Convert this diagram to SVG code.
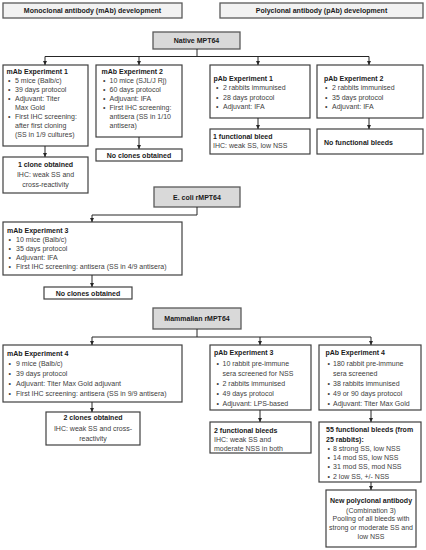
<svg xmlns="http://www.w3.org/2000/svg" width="426" height="550" viewBox="0 0 426 550">
<defs>
<marker id="arr" viewBox="0 0 6 6" refX="6" refY="3" markerWidth="4.5" markerHeight="4.5" markerUnits="userSpaceOnUse" orient="auto">
<path d="M0,0 L6,3 L0,6 z" fill="#262626"/>
</marker>
<style>
.box{fill:#fff;stroke:#404040;stroke-width:1.2}
.hdr{fill:#f2f2f2;stroke:#595959;stroke-width:1.3}
.src{fill:#d9d9d9;stroke:#595959;stroke-width:1.3}
text{font-family:"Liberation Sans",Arial,sans-serif;font-size:7px;fill:#404040}
.b{font-weight:bold;fill:#1a1a1a}
.c{text-anchor:middle}
.con{fill:none;stroke:#262626;stroke-width:1}
</style>
</defs>
<rect width="426" height="550" fill="#fff"/>

<g id="hdr-mab"><rect class="hdr" x="3" y="3" width="179" height="15"/><text class="b c" x="92.5" y="13.3">Monoclonal antibody (mAb) development</text></g>
<g id="hdr-pab"><rect class="hdr" x="220" y="3" width="203" height="15"/><text class="b c" x="321.5" y="13.3">Polyclonal antibody (pAb) development</text></g>

<g id="native"><rect class="src" x="153" y="32" width="87" height="17"/><text class="b c" x="196.5" y="43">Native MPT64</text></g>

<g id="mab1"><rect class="box" x="3" y="65" width="85" height="81"/>
<text class="b" x="6.5" y="74">mAb Experiment 1</text>
<text x="8" y="83">•</text><text x="15" y="83">5 mice (Balb/c)</text>
<text x="8" y="92">•</text><text x="15" y="92">39 days protocol</text>
<text x="8" y="101">•</text><text x="15" y="101">Adjuvant: Titer</text>
<text x="15" y="110">Max Gold</text>
<text x="8" y="119">•</text><text x="15" y="119">First IHC screening:</text>
<text x="15" y="128">after first cloning</text>
<text x="15" y="137">(SS in 1/9 cultures)</text>
</g>
<g id="mab1-res"><rect class="box" x="3" y="157" width="85" height="36"/>
<text class="b c" x="45.5" y="166.5">1 clone obtained</text>
<text class="c" x="45.5" y="176.5">IHC: weak SS and</text>
<text class="c" x="45.5" y="186.5">cross-reactivity</text>
</g>

<g id="mab2"><rect class="box" x="96" y="65" width="86" height="72"/>
<text class="b" x="101.5" y="74">mAb Experiment 2</text>
<text x="103" y="83">•</text><text x="109.5" y="83">10 mice (SJL/J Rj)</text>
<text x="103" y="92">•</text><text x="109.5" y="92">60 days protocol</text>
<text x="103" y="101">•</text><text x="109.5" y="101">Adjuvant: IFA</text>
<text x="103" y="110">•</text><text x="109.5" y="110">First IHC screening:</text>
<text x="109.5" y="119">antisera (SS in 1/10</text>
<text x="109.5" y="128">antisera)</text>
</g>
<g id="mab2-res"><rect class="box" x="96" y="149" width="86" height="12"/>
<text class="b c" x="139" y="157.5">No clones obtained</text>
</g>

<g id="pab1"><rect class="box" x="210" y="65" width="100" height="53"/>
<text class="b" x="213.5" y="80.5">pAb Experiment 1</text>
<text x="216" y="90">•</text><text x="223" y="90">2 rabbits immunised</text>
<text x="216" y="99.5">•</text><text x="223" y="99.5">28 days protocol</text>
<text x="216" y="109">•</text><text x="223" y="109">Adjuvant: IFA</text>
</g>
<g id="pab1-res"><rect class="box" x="210" y="129" width="100" height="25"/>
<text class="b" x="213" y="139">1 functional bleed</text>
<text x="213" y="148">IHC: weak SS, low NSS</text>
</g>

<g id="pab2"><rect class="box" x="317" y="65" width="106" height="53"/>
<text class="b" x="324" y="80.5">pAb Experiment 2</text>
<text x="325" y="90">•</text><text x="332" y="90">2 rabbits immunised</text>
<text x="325" y="99.5">•</text><text x="332" y="99.5">35 days protocol</text>
<text x="325" y="109">•</text><text x="332" y="109">Adjuvant: IFA</text>
</g>
<g id="pab2-res"><rect class="box" x="317" y="129" width="106" height="25"/>
<text class="b" x="324" y="144.5">No functional bleeds</text>
</g>

<g id="ecoli"><rect class="src" x="154" y="187" width="86" height="20"/><text class="b c" x="197" y="199.8">E. coli rMPT64</text></g>

<g id="mab3"><rect class="box" x="3" y="222" width="179" height="53"/>
<text class="b" x="7" y="233">mAb Experiment 3</text>
<text x="8.5" y="242">•</text><text x="16" y="242">10 mice (Balb/c)</text>
<text x="8.5" y="251">•</text><text x="16" y="251">35 days protocol</text>
<text x="8.5" y="260">•</text><text x="16" y="260">Adjuvant: IFA</text>
<text x="8.5" y="269">•</text><text x="16" y="269">First IHC screening: antisera (SS in 4/9 antisera)</text>
</g>
<g id="mab3-res"><rect class="box" x="44" y="287" width="88" height="12"/>
<text class="b c" x="88" y="295.5">No clones obtained</text>
</g>

<g id="mammal"><rect class="src" x="153" y="308" width="88" height="21"/><text class="b c" x="197" y="321">Mammalian rMPT64</text></g>

<g id="mab4"><rect class="box" x="3" y="345" width="179" height="57"/>
<text class="b" x="7" y="356">mAb Experiment 4</text>
<text x="8.5" y="366">•</text><text x="16" y="366">9 mice (Balb/c)</text>
<text x="8.5" y="375.5">•</text><text x="16" y="375.5">39 days protocol</text>
<text x="8.5" y="385.5">•</text><text x="16" y="385.5">Adjuvant: Titer Max Gold adjuvant</text>
<text x="8.5" y="395.5">•</text><text x="16" y="395.5">First IHC screening: antisera (SS in 9/9 antisera)</text>
</g>
<g id="mab4-res"><rect class="box" x="46" y="412" width="94" height="33"/>
<text class="b c" x="93" y="420">2 clones obtained</text>
<text class="c" x="93" y="430.5">IHC: weak SS and cross-</text>
<text class="c" x="93" y="440.5">reactivity</text>
</g>

<g id="pab3"><rect class="box" x="210" y="345" width="101" height="65"/>
<text class="b" x="214" y="355">pAb Experiment 3</text>
<text x="216.5" y="365.5">•</text><text x="222.5" y="365.5">10 rabbit pre-immune</text>
<text x="222.5" y="375.5">sera screened for NSS</text>
<text x="216.5" y="385.5">•</text><text x="222.5" y="385.5">2 rabbits immunised</text>
<text x="216.5" y="395.5">•</text><text x="222.5" y="395.5">49 days protocol</text>
<text x="216.5" y="405.5">•</text><text x="222.5" y="405.5">Adjuvant: LPS-based</text>
</g>
<g id="pab3-res"><rect class="box" x="210" y="422" width="101" height="31"/>
<text class="b" x="214" y="432.5">2 functional bleeds</text>
<text x="214" y="441.8">IHC: weak SS and</text>
<text x="214" y="450.8">moderate NSS in both</text>
</g>

<g id="pab4"><rect class="box" x="319" y="345" width="102" height="65"/>
<text class="b" x="325.5" y="355">pAb Experiment 4</text>
<text x="327.5" y="365.5">•</text><text x="333" y="365.5">180 rabbit pre-immune</text>
<text x="333" y="375.5">sera screened</text>
<text x="327.5" y="385.5">•</text><text x="333" y="385.5">38 rabbits immunised</text>
<text x="327.5" y="395.5">•</text><text x="333" y="395.5">49 or 90 days protocol</text>
<text x="327.5" y="405.5">•</text><text x="333" y="405.5">Adjuvant: Titer Max Gold</text>
</g>
<g id="pab4-res"><rect class="box" x="319" y="422" width="102" height="60"/>
<text class="b" x="326" y="431.8">55 functional bleeds (from</text>
<text class="b" x="326" y="441.8">25 rabbits):</text>
<text x="327.5" y="450.8">•</text><text x="333" y="450.8">8  strong SS, low NSS</text>
<text x="327.5" y="459.8">•</text><text x="333" y="459.8">14 mod SS, low NSS</text>
<text x="327.5" y="469.2">•</text><text x="333" y="469.2">31 mod SS, mod NSS</text>
<text x="327.5" y="478.5">•</text><text x="333" y="478.5">2 low SS, +/- NSS</text>
</g>
<g id="newpab"><rect class="box" x="326" y="490" width="90" height="57"/>
<text class="b c" x="371" y="503.2">New polyclonal antibody</text>
<text class="c" x="371" y="512.5">(Combination 3)</text>
<text class="c" x="371" y="520.8">Pooling of all bleeds with</text>
<text class="c" x="371" y="529.8">strong or moderate SS and</text>
<text class="c" x="371" y="539.2">low NSS</text>
</g>

<g id="connectors">
<path class="con" d="M197,49 V56.5 M45,56.5 H369"/>
<path class="con" d="M45,56.5 V65" marker-end="url(#arr)"/>
<path class="con" d="M139,56.5 V65" marker-end="url(#arr)"/>
<path class="con" d="M258,56.5 V65" marker-end="url(#arr)"/>
<path class="con" d="M369,56.5 V65" marker-end="url(#arr)"/>
<path class="con" d="M45,146 V157" marker-end="url(#arr)"/>
<path class="con" d="M139,137 V149" marker-end="url(#arr)"/>
<path class="con" d="M258,118 V129" marker-end="url(#arr)"/>
<path class="con" d="M369,118 V129" marker-end="url(#arr)"/>
<path class="con" d="M197,207 V215 H92 V222" marker-end="url(#arr)"/>
<path class="con" d="M92,275 V287" marker-end="url(#arr)"/>
<path class="con" d="M197,329 V337 M92,337 H371"/>
<path class="con" d="M92,337 V345" marker-end="url(#arr)"/>
<path class="con" d="M260,337 V345" marker-end="url(#arr)"/>
<path class="con" d="M371,337 V345" marker-end="url(#arr)"/>
<path class="con" d="M92,402 V412" marker-end="url(#arr)"/>
<path class="con" d="M260,410 V422" marker-end="url(#arr)"/>
<path class="con" d="M371,410 V422" marker-end="url(#arr)"/>
<path class="con" d="M371,482 V490" marker-end="url(#arr)"/>
</g>
</svg>
